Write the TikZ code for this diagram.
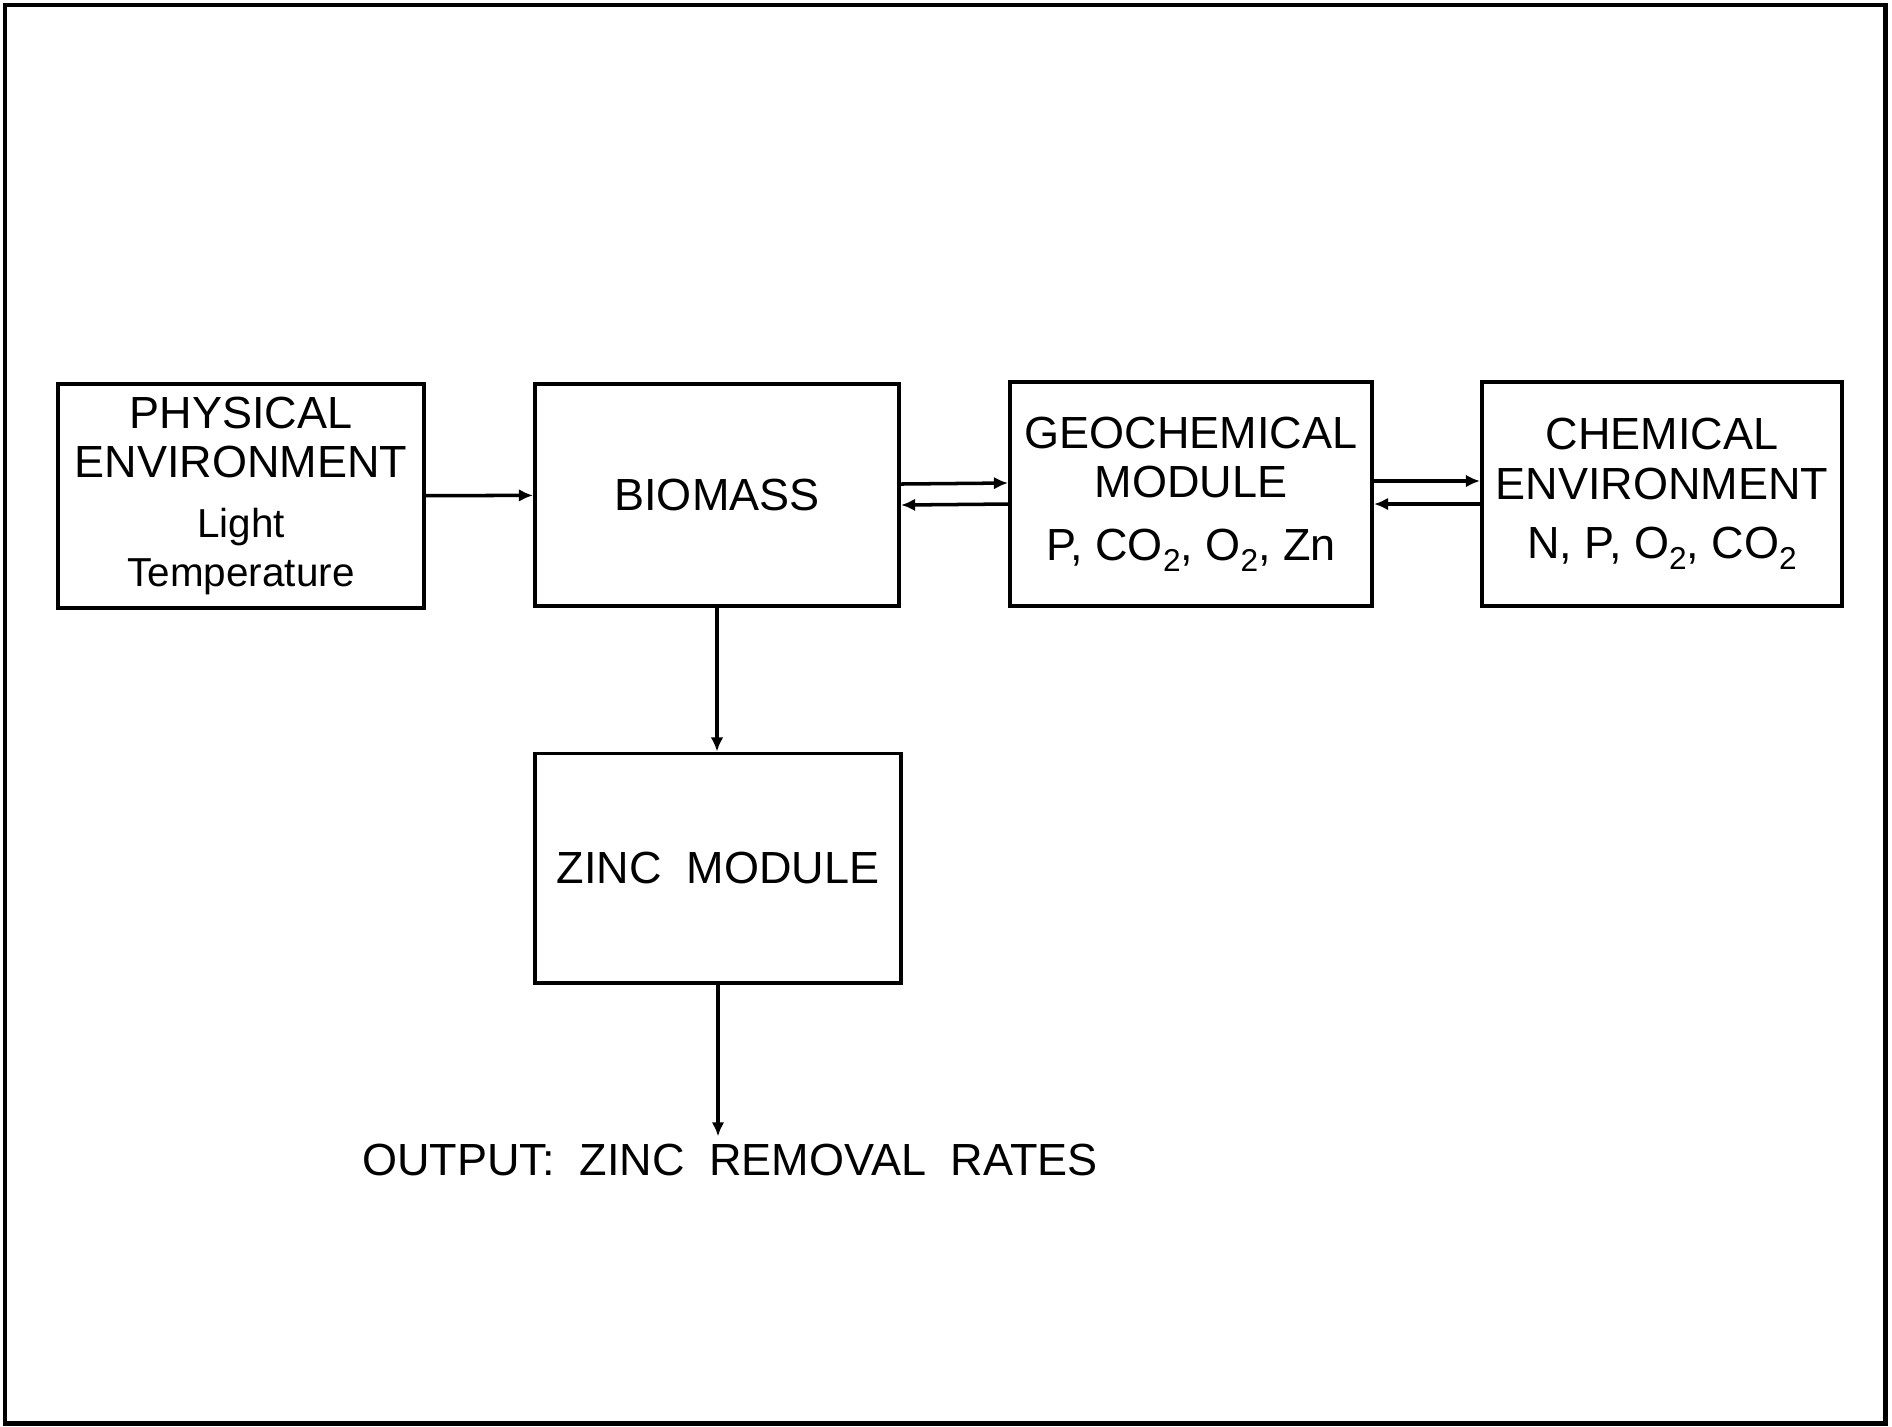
\documentclass[tikz,border=0pt]{standalone}
\usepackage{fontspec}
\setmainfont{Liberation Sans}
\usetikzlibrary{positioning,arrows.meta}

\tikzset{
  module/.style={draw, rectangle, line width=1.1pt, inner sep=0pt, align=center,
                 font=\fontsize{12.8}{14}\selectfont},
  flow/.style={->, line width=1pt}
}
\newcommand{\wsp}{\hspace{0.55em}}
\newcommand{\lsub}[1]{\raisebox{-0.45ex}{\fontsize{9}{9}\selectfont #1}}

\begin{document}
\begin{tikzpicture}[>={Latex[length=4pt,width=3.6pt]}, x=0.01cm, y=-0.01cm]
    \useasboundingbox (0,0) rectangle (1892,1426);
    \draw[line width=1.4pt] (5,5) rectangle (1885,1423);

    \node[module, minimum width=3.65cm, minimum height=2.24cm] (phys) at (241,496)
        {PHYSICAL\\ENVIRONMENT\\[3pt]{\fontsize{11.5}{13}\selectfont Light}\\{\fontsize{11.5}{12}\selectfont Temperature}};
    \node[module, minimum width=3.64cm, minimum height=2.22cm] (biomass) at (717,495) {BIOMASS};
    \node[module, minimum width=3.62cm, minimum height=2.24cm] (geo) at (1191,494)
        {GEOCHEMICAL\\MODULE\\[4pt]P, CO\lsub{2}, O\lsub{2}, Zn};
    \node[module, minimum width=3.60cm, minimum height=2.24cm] (chem) at (1662,494)
        {CHEMICAL\\ENVIRONMENT\\[3pt]N, P, O\lsub{2}, CO\lsub{2}};
    \node[module, minimum width=3.65cm, minimum height=2.29cm] (zinc) at (718,868) {ZINC\wsp MODULE};
    \node[font=\fontsize{12.8}{14}\selectfont, inner sep=2pt] (output) at (730,1160)
        {OUTPUT:\wsp ZINC\wsp REMOVAL\wsp RATES};

    \draw[flow] (phys) -- (biomass);
    \draw[flow] ([yshift=0.11cm]biomass.east) -- ([yshift=0.11cm]geo.west);
    \draw[flow] ([yshift=-0.1cm]geo.west) -- ([yshift=-0.1cm]biomass.east);
    \draw[flow] ([yshift=0.13cm]geo.east) -- ([yshift=0.13cm]chem.west);
    \draw[flow] ([yshift=-0.1cm]chem.west) -- ([yshift=-0.1cm]geo.east);
    \draw[flow] (biomass.south) -- (biomass.south |- zinc.north);
    \draw[flow] (zinc.south) -- (zinc.south |- output.north);
\end{tikzpicture}
\end{document}
